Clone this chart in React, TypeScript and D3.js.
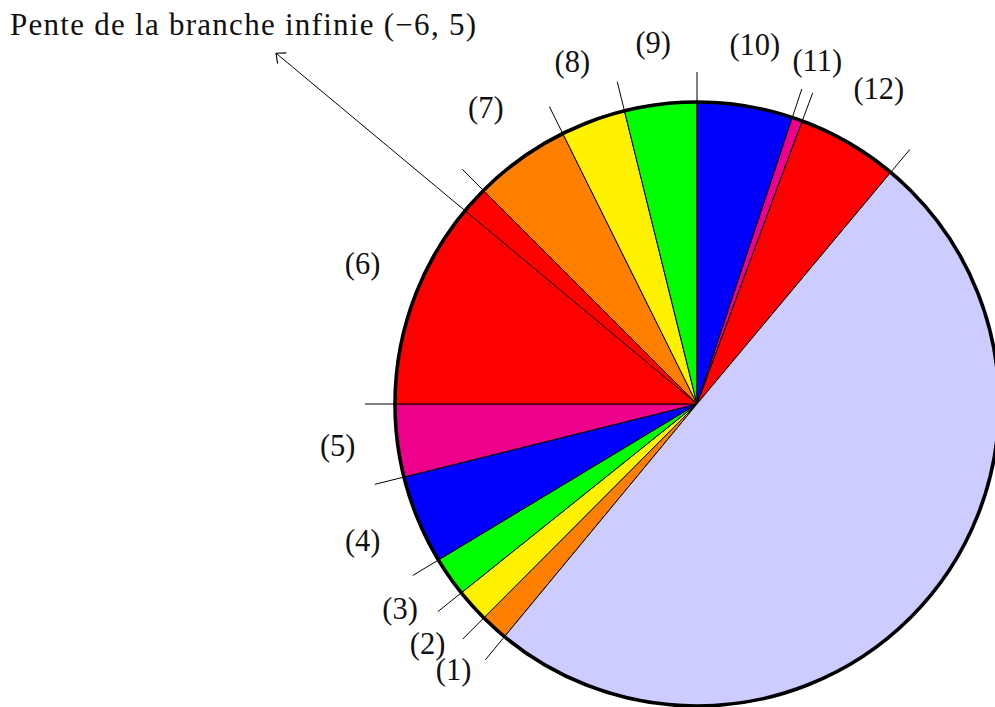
import { useMemo } from 'react';
import * as d3 from 'd3';

// slice sizes (degrees), in drawing order, clockwise
const labels = ['(1)', '(2)', '(3)', '(4)', '(5)', '(6)', '(7)', '(8)', '(9)', '(10)', '(11)', '(12)', ''];
const values = [5.3, 6.4, 7.6, 17.1, 14.0, 45.0, 18.6, 12.5, 13.9, 18.4, 2.0, 19.5, 179.7];
const colors = [
  '#ff8000', '#fff200', '#00ff00', '#0000ff', '#ec008c', '#ff0000',
  '#ff8000', '#fff200', '#00ff00', '#0000ff', '#ec008c', '#ff0000',
  '#ccccff',
];
// where slice (1) begins, degrees clockwise from 12 o'clock
const startDeg = 219.6;
// infinite branch slope
const slope: [number, number] = [-6, 5];
const titleText = 'Pente de la branche infinie (\u22126, 5)';

const W = 995;
const H = 707;
const cx = 697;
const cy = 404;
const R = 302;
const FONT = "'Liberation Serif', 'DejaVu Serif', serif";

interface Slice {
  label: string;
  value: number;
  color: string;
}

export default function App() {
  const data: Slice[] = labels.map((label, i) => ({ label, value: values[i], color: colors[i] }));

  const { arcs, arcPath, labelArc } = useMemo(() => {
    const start = (startDeg * Math.PI) / 180;
    const pie = d3
      .pie<Slice>()
      .sort(null)
      .value((d) => d.value)
      .startAngle(start)
      .endAngle(start + 2 * Math.PI);
    return {
      arcs: pie(data),
      arcPath: d3.arc<d3.PieArcDatum<Slice>>().innerRadius(0).outerRadius(R),
      labelArc: d3.arc<d3.PieArcDatum<Slice>>().innerRadius(362).outerRadius(362),
    };
  }, []);

  // arrow along the slope direction, from the centre
  const ang = Math.atan2(-slope[1], slope[0]); // screen angle
  const arrowLen = 548;
  const tip: [number, number] = [Math.cos(ang) * arrowLen, Math.sin(ang) * arrowLen];
  const back = ang + Math.PI;
  const headLen = 10;
  const head = [back - 0.73, back + 0.73].map((a) => [tip[0] + Math.cos(a) * headLen, tip[1] + Math.sin(a) * headLen]);

  return (
    <svg width={W} height={H} style={{ position: 'absolute', left: 0, top: 0, background: '#fff' }}>
      <g transform={`translate(${cx},${cy})`}>
        {arcs.map((a, i) => (
          <path key={i} d={arcPath(a) ?? ''} fill={a.data.color} stroke="#000" strokeWidth={1} strokeLinejoin="round" />
        ))}
        {arcs.map((a, i) => {
          const p0 = d3.pointRadial(a.startAngle, R);
          const p1 = d3.pointRadial(a.startAngle, R + 30);
          return <line key={i} x1={p0[0]} y1={p0[1]} x2={p1[0]} y2={p1[1]} stroke="#000" strokeWidth={1} />;
        })}
        <circle r={R} fill="none" stroke="#000" strokeWidth={3.6} />
        <line x1={0} y1={0} x2={tip[0]} y2={tip[1]} stroke="#000" strokeWidth={1} />
        <path
          d={`M${head[0][0]},${head[0][1]} L${tip[0]},${tip[1]} L${head[1][0]},${head[1][1]}`}
          fill="none"
          stroke="#000"
          strokeWidth={1.1}
          strokeLinecap="round"
          strokeLinejoin="round"
        />
        {arcs.map((a, i) => {
          if (!a.data.label) return null;
          const [lx, ly] = labelArc.centroid(a);
          return (
            <text key={i} x={lx} y={ly} dy="0.27em" textAnchor="middle" fontFamily={FONT} fontSize={30.5} fill="#111">
              {a.data.label}
            </text>
          );
        })}
      </g>
      <text x={10} y={35} fontFamily={FONT} fontSize={31} fill="#111" textLength={466} lengthAdjust="spacing">
        {titleText}
      </text>
    </svg>
  );
}
